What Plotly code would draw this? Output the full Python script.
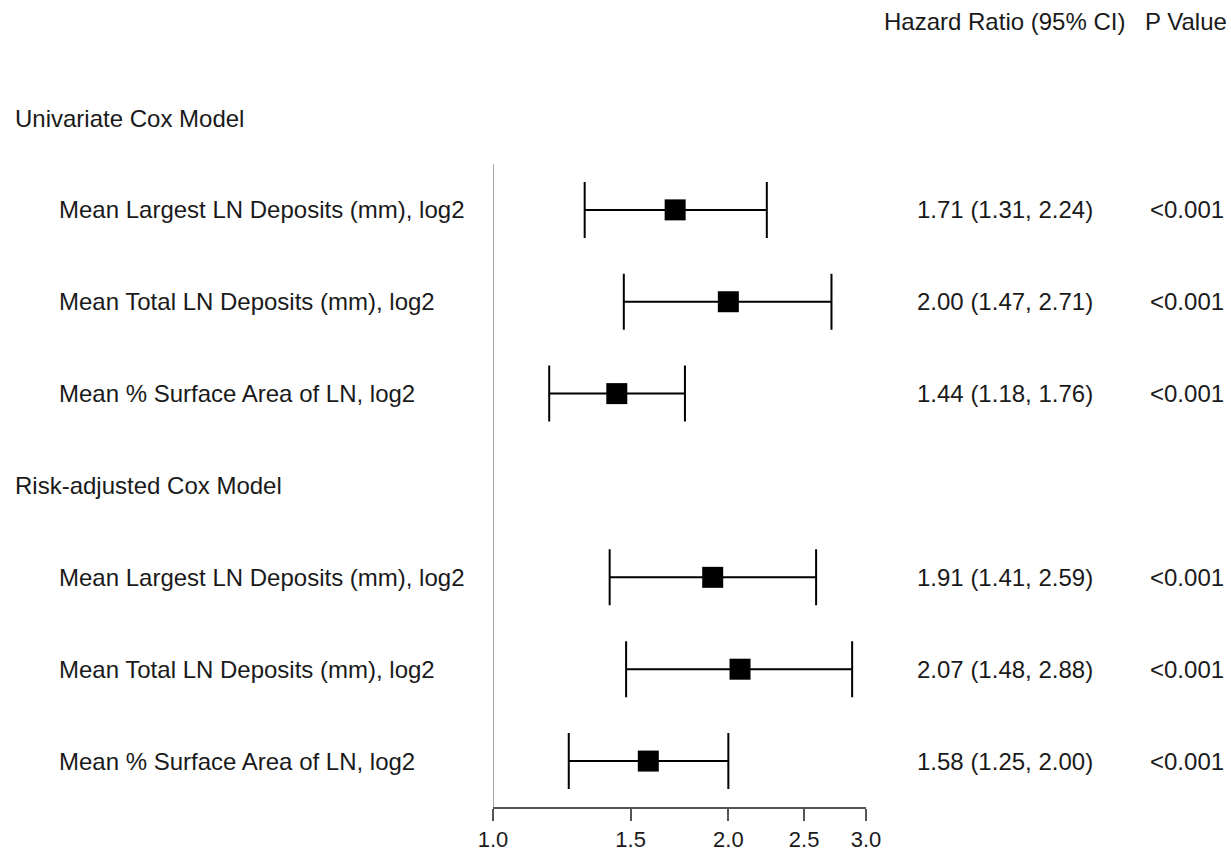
import plotly.graph_objects as go

# ---- data ----
group_titles = ["Univariate Cox Model", "Risk-adjusted Cox Model"]
row_labels = [
    "Mean Largest LN Deposits (mm), log2",
    "Mean Total LN Deposits (mm), log2",
    "Mean % Surface Area of LN, log2",
    "Mean Largest LN Deposits (mm), log2",
    "Mean Total LN Deposits (mm), log2",
    "Mean % Surface Area of LN, log2",
]
row_group = [0, 0, 0, 1, 1, 1]
hazard_ratio = [1.71, 2.00, 1.44, 1.91, 2.07, 1.58]
ci_lower = [1.31, 1.47, 1.18, 1.41, 1.48, 1.25]
ci_upper = [2.24, 2.71, 1.76, 2.59, 2.88, 2.00]
p_values = ["<0.001", "<0.001", "<0.001", "<0.001", "<0.001", "<0.001"]
tick_vals = [1.0, 1.5, 2.0, 2.5, 3.0]
tick_text = ["1.0", "1.5", "2.0", "2.5", "3.0"]
col_header_hr = "Hazard Ratio (95% CI)"
col_header_p = "P Value"

# ---- layout of rows (header rows + item rows) ----
row_y = []
header_y = []
pos = 0
for g in range(len(group_titles)):
    header_y.append(pos)
    pos += 1
    for i, grp in enumerate(row_group):
        if grp == g:
            row_y.append(pos)
            pos += 1

W, H = 1231, 852
FONT = "Liberation Sans, Arial, sans-serif"
FS = 24
TXT = "#1a1a1a"

fig = go.Figure()
fig.add_trace(go.Scatter(
    x=hazard_ratio, y=row_y, mode="markers",
    marker=dict(symbol="square", size=21, color="black", line=dict(width=0)),
    error_x=dict(type="data", symmetric=False,
                 array=[u - h for u, h in zip(ci_upper, hazard_ratio)],
                 arrayminus=[h - l for h, l in zip(hazard_ratio, ci_lower)],
                 color="black", thickness=2, width=28),
    showlegend=False, hoverinfo="skip", cliponaxis=False,
))

# reference line at HR = 1
fig.add_shape(type="line", xref="x", yref="y", x0=1, x1=1, y0=0.5, y1=7.5,
              line=dict(color="#a8a8a8", width=2), layer="below")

ann = []
for t, yv in zip(group_titles, header_y):
    ann.append(dict(text=t, x=13 / W, xref="paper", y=yv, yref="y",
                    xanchor="left", yanchor="middle", showarrow=False,
                    font=dict(family=FONT, size=FS, color=TXT)))
for lab, yv, h, l, u, p in zip(row_labels, row_y, hazard_ratio, ci_lower, ci_upper, p_values):
    ann.append(dict(text=lab, x=57 / W, xref="paper", y=yv, yref="y",
                    xanchor="left", yanchor="middle", showarrow=False,
                    font=dict(family=FONT, size=FS, color=TXT)))
    ann.append(dict(text=f"{h:.2f} ({l:.2f}, {u:.2f})", x=915 / W, xref="paper", y=yv, yref="y",
                    xanchor="left", yanchor="middle", showarrow=False,
                    font=dict(family=FONT, size=FS, color=TXT)))
    ann.append(dict(text=p, x=1148 / W, xref="paper", y=yv, yref="y",
                    xanchor="left", yanchor="middle", showarrow=False,
                    font=dict(family=FONT, size=FS, color=TXT)))
ann.append(dict(text=col_header_hr, x=882 / W, xref="paper", y=-1.05, yref="y",
                xanchor="left", yanchor="middle", showarrow=False,
                font=dict(family=FONT, size=FS, color=TXT)))
ann.append(dict(text=col_header_p, x=1143 / W, xref="paper", y=-1.05, yref="y",
                xanchor="left", yanchor="middle", showarrow=False,
                font=dict(family=FONT, size=FS, color=TXT)))

fig.update_layout(
    width=W, height=H,
    margin=dict(l=0, r=0, t=0, b=0, autoexpand=False),
    paper_bgcolor="white", plot_bgcolor="white",
    annotations=ann,
    xaxis=dict(type="log", range=[0, 0.47712], domain=[493 / W, 866 / W], automargin=False,
               showgrid=False, zeroline=False, showline=True, linecolor="#555555", linewidth=2,
               ticks="outside", ticklen=12, tickwidth=2, tickcolor="#555555",
               tickvals=tick_vals, ticktext=tick_text, ticklabelstandoff=0,
               tickfont=dict(family=FONT, size=22, color=TXT)),
    yaxis=dict(range=[7.5, -1.2846], domain=[(H - 807) / H, 1], visible=False, automargin=False,
               showgrid=False, zeroline=False),
)

fig.write_html("out.html", config={"displayModeBar": False},
               post_script="document.body.style.margin='0';")
